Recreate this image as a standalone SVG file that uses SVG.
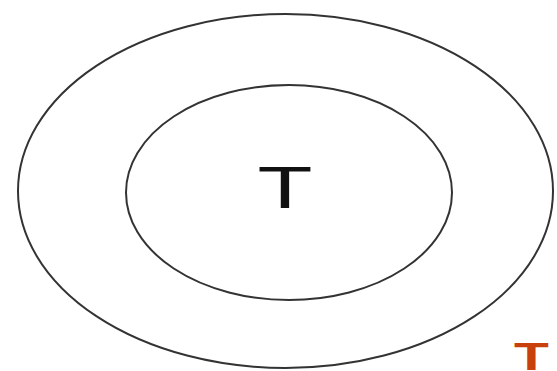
<svg xmlns="http://www.w3.org/2000/svg" width="557" height="371" viewBox="0 0 557 371">
<style>
.ring{fill:none;stroke:#333;stroke-width:2}
.lbl{font-family:"Liberation Sans",Arial,sans-serif;fill:#111}
</style>
<rect width="557" height="371" fill="#fff"/>
<g id="outer"><ellipse class="ring" cx="285.5" cy="191" rx="267.5" ry="177"/></g>
<g id="inner"><ellipse class="ring" cx="289" cy="192.5" rx="163" ry="107.5"/>
<text class="lbl" font-size="60" text-anchor="middle" transform="translate(285,208) scale(1.5,1)">T</text></g>
<g id="corner"><text font-family="'Liberation Sans',Arial,sans-serif" font-weight="bold" font-size="38" fill="#c8400c" transform="translate(514,370) scale(1.5,1)">T</text></g>
<g id="connectors"/>
</svg>
